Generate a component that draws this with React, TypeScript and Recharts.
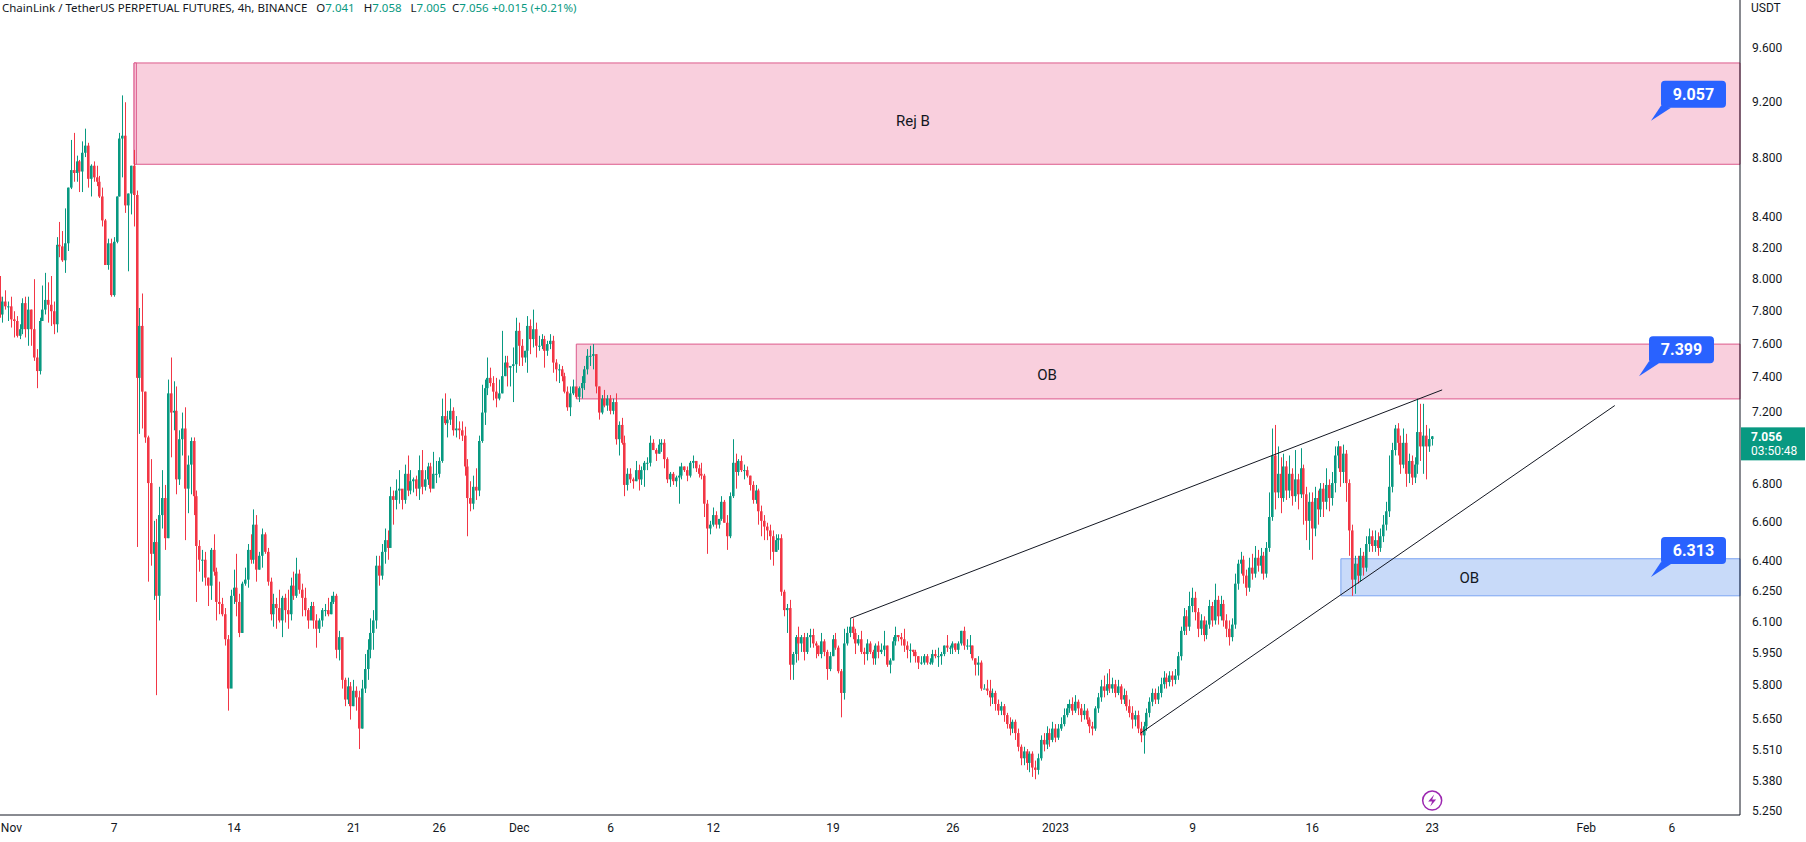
import {
  ComposedChart,
  Bar,
  XAxis,
  YAxis,
  ReferenceArea,
  ReferenceLine,
  ReferenceDot,
} from 'recharts';

const closes = [
  7.77, 7.85, 7.82, 7.82, 7.74, 7.73, 7.64, 7.68, 7.84, 7.68,
  7.80, 7.68, 7.51, 7.43, 7.73, 7.80, 7.86, 7.83, 7.79, 7.71,
  8.21, 8.20, 8.11, 8.22, 8.59, 8.71, 8.69, 8.77, 8.70, 8.83,
  8.88, 8.65, 8.74, 8.66, 8.63, 8.53, 8.37, 8.08, 8.22, 7.89,
  8.23, 8.53, 8.93, 8.95, 8.47, 8.55, 8.74, 8.54, 7.39, 7.70,
  7.31, 7.05, 6.80, 6.43, 6.49, 6.22, 6.63, 6.72, 6.51, 7.30,
  7.19, 7.20, 6.82, 7.04, 7.10, 6.77, 6.90, 7.03, 6.73, 6.47,
  6.40, 6.40, 6.31, 6.27, 6.45, 6.34, 6.19, 6.18, 6.13, 6.01,
  5.78, 6.22, 6.26, 6.19, 6.04, 6.28, 6.30, 6.45, 6.40, 6.58,
  6.35, 6.42, 6.53, 6.44, 6.29, 6.13, 6.18, 6.16, 6.10, 6.21,
  6.15, 6.13, 6.27, 6.22, 6.33, 6.25, 6.21, 6.15, 6.10, 6.17,
  6.10, 6.06, 6.10, 6.15, 6.15, 6.13, 6.19, 6.22, 5.96, 6.02,
  5.82, 5.73, 5.79, 5.70, 5.77, 5.74, 5.60, 5.78, 5.87, 5.96,
  6.04, 6.10, 6.37, 6.32, 6.44, 6.50, 6.46, 6.73, 6.71, 6.76,
  6.77, 6.71, 6.85, 6.76, 6.81, 6.82, 6.77, 6.87, 6.78, 6.82,
  6.89, 6.77, 6.85, 6.85, 6.92, 7.17, 7.13, 7.15, 7.20, 7.09,
  7.10, 7.09, 7.06, 6.89, 6.72, 6.69, 6.78, 6.76, 7.03, 7.19,
  7.33, 7.39, 7.36, 7.31, 7.27, 7.30, 7.40, 7.48, 7.45, 7.46,
  7.47, 7.67, 7.58, 7.51, 7.55, 7.70, 7.62, 7.68, 7.58, 7.58,
  7.62, 7.55, 7.59, 7.61, 7.48, 7.44, 7.44, 7.40, 7.31, 7.22,
  7.30, 7.34, 7.28, 7.33, 7.36, 7.44, 7.52, 7.52, 7.53, 7.34,
  7.19, 7.27, 7.23, 7.27, 7.20, 7.25, 7.04, 7.12, 7.02, 6.79,
  6.85, 6.82, 6.81, 6.87, 6.82, 6.87, 6.91, 6.91, 7.02, 6.98,
  6.96, 7.01, 7.02, 6.93, 6.82, 6.85, 6.81, 6.83, 6.84, 6.89,
  6.87, 6.84, 6.91, 6.92, 6.88, 6.85, 6.84, 6.69, 6.56, 6.58,
  6.63, 6.58, 6.61, 6.70, 6.59, 6.52, 6.73, 6.91, 6.86, 6.92,
  6.87, 6.87, 6.84, 6.79, 6.71, 6.76, 6.65, 6.60, 6.57, 6.55,
  6.52, 6.44, 6.50, 6.51, 6.24, 6.15, 6.16, 5.89, 5.94, 6.02,
  5.99, 6.02, 5.95, 6.02, 6.03, 5.99, 5.98, 5.94, 6.00, 5.95,
  5.87, 5.93, 6.01, 5.97, 5.86, 5.76, 5.99, 6.04, 6.07, 6.04,
  5.99, 6.01, 5.95, 5.94, 5.99, 5.95, 5.92, 5.98, 5.95, 5.96,
  5.98, 5.89, 5.91, 6.00, 6.03, 6.02, 6.01, 5.98, 5.96, 5.96,
  5.95, 5.93, 5.90, 5.90, 5.93, 5.90, 5.90, 5.94, 5.93, 5.93,
  5.94, 5.98, 5.97, 5.97, 5.99, 5.96, 5.99, 6.05, 5.98, 5.98,
  5.98, 5.92, 5.89, 5.90, 5.78, 5.78, 5.77, 5.74, 5.76, 5.71,
  5.68, 5.70, 5.66, 5.62, 5.60, 5.63, 5.58, 5.52, 5.47, 5.50,
  5.45, 5.49, 5.43, 5.42, 5.47, 5.55, 5.53, 5.58, 5.55, 5.60,
  5.56, 5.60, 5.62, 5.66, 5.69, 5.71, 5.68, 5.72, 5.69, 5.66,
  5.68, 5.64, 5.61, 5.60, 5.69, 5.74, 5.79, 5.77, 5.80, 5.78,
  5.80, 5.76, 5.79, 5.73, 5.75, 5.70, 5.67, 5.64, 5.66, 5.60,
  5.57, 5.61, 5.67, 5.72, 5.76, 5.73, 5.76, 5.80, 5.83, 5.81,
  5.84, 5.82, 5.84, 5.93, 6.05, 6.12, 6.07, 6.17, 6.21, 6.14,
  6.06, 6.10, 6.03, 6.08, 6.17, 6.10, 6.20, 6.12, 6.18, 6.10,
  6.06, 6.02, 6.08, 6.28, 6.38, 6.40, 6.32, 6.26, 6.36, 6.33,
  6.41, 6.37, 6.42, 6.33, 6.46, 6.62, 6.95, 6.75, 6.85, 6.72,
  6.89, 6.76, 6.85, 6.73, 6.82, 6.74, 6.88, 6.74, 6.60, 6.70,
  6.56, 6.72, 6.66, 6.77, 6.70, 6.79, 6.72, 6.80, 6.95, 7.00,
  6.86, 6.96, 6.80, 6.55, 6.30, 6.38, 6.32, 6.42, 6.36, 6.48,
  6.52, 6.47, 6.50, 6.46, 6.52, 6.58, 6.65, 6.78, 6.98, 7.10,
  7.02, 6.90, 7.02, 6.85, 6.92, 6.83, 6.90, 7.08, 7.00, 7.06,
  7.00, 7.041, 7.056,
];

const highs = [
  8.01, 7.88, 7.92, 7.85, 7.88, 7.79, 7.76, 7.71, 7.87, 7.88,
  7.88, 7.80, 7.99, 7.56, 7.75, 7.95, 8.03, 7.97, 8.01, 7.85,
  8.26, 8.36, 8.30, 8.45, 8.59, 8.92, 8.97, 8.81, 8.78, 8.91,
  9.00, 8.90, 8.75, 8.77, 8.74, 8.67, 8.59, 8.38, 8.25, 8.25,
  8.26, 8.53, 8.97, 9.24, 9.19, 8.55, 8.74, 8.85, 8.57, 7.81,
  7.90, 7.31, 7.06, 6.93, 6.60, 6.61, 6.78, 6.87, 6.79, 7.38,
  7.51, 7.37, 7.34, 7.09, 7.19, 7.22, 6.95, 7.05, 7.05, 6.76,
  6.50, 6.45, 6.44, 6.31, 6.46, 6.53, 6.36, 6.29, 6.21, 6.16,
  6.03, 6.25, 6.35, 6.43, 6.23, 6.29, 6.36, 6.48, 6.53, 6.66,
  6.63, 6.44, 6.56, 6.54, 6.46, 6.31, 6.23, 6.21, 6.25, 6.22,
  6.23, 6.25, 6.31, 6.34, 6.41, 6.35, 6.28, 6.26, 6.16, 6.19,
  6.19, 6.13, 6.11, 6.16, 6.18, 6.21, 6.22, 6.24, 6.23, 6.05,
  6.00, 5.83, 5.83, 5.81, 5.82, 5.79, 5.77, 5.82, 5.94, 6.01,
  6.11, 6.15, 6.42, 6.42, 6.48, 6.56, 6.55, 6.78, 6.76, 6.82,
  6.87, 6.76, 6.90, 6.95, 6.87, 6.83, 6.84, 6.95, 6.98, 6.87,
  6.91, 6.91, 6.97, 6.92, 6.94, 7.27, 7.30, 7.20, 7.27, 7.22,
  7.17, 7.14, 7.14, 7.11, 6.93, 6.81, 6.84, 6.88, 7.06, 7.35,
  7.38, 7.51, 7.45, 7.40, 7.39, 7.38, 7.67, 7.52, 7.52, 7.46,
  7.57, 7.75, 7.72, 7.62, 7.55, 7.76, 7.74, 7.80, 7.72, 7.64,
  7.65, 7.64, 7.61, 7.65, 7.64, 7.50, 7.47, 7.46, 7.42, 7.34,
  7.34, 7.38, 7.33, 7.34, 7.40, 7.46, 7.56, 7.58, 7.59, 7.53,
  7.34, 7.29, 7.32, 7.29, 7.29, 7.27, 7.30, 7.14, 7.16, 7.06,
  6.88, 6.88, 6.83, 6.92, 6.90, 6.89, 6.92, 6.94, 7.06, 7.04,
  6.99, 7.04, 7.04, 7.04, 6.94, 6.86, 6.86, 6.84, 6.89, 6.91,
  6.89, 6.89, 6.92, 6.95, 6.92, 6.90, 6.91, 6.85, 6.71, 6.60,
  6.67, 6.65, 6.61, 6.73, 6.71, 6.63, 6.75, 7.04, 6.96, 6.93,
  6.95, 6.90, 6.89, 6.84, 6.81, 6.79, 6.77, 6.68, 6.63, 6.59,
  6.58, 6.55, 6.53, 6.53, 6.53, 6.25, 6.18, 6.20, 5.95, 6.03,
  6.07, 6.03, 6.04, 6.04, 6.06, 6.06, 6.00, 5.98, 6.04, 6.01,
  5.96, 5.95, 6.03, 6.04, 5.98, 5.87, 6.06, 6.07, 6.11, 6.11,
  6.06, 6.03, 6.05, 5.97, 6.01, 6.00, 5.96, 5.99, 6.00, 5.99,
  6.05, 5.98, 5.92, 6.02, 6.07, 6.03, 6.04, 6.06, 6.00, 5.99,
  5.96, 5.96, 5.93, 5.93, 5.94, 5.94, 5.92, 5.96, 5.96, 5.97,
  5.95, 5.98, 6.03, 5.98, 6.00, 5.99, 6.00, 6.05, 6.07, 6.01,
  6.03, 5.98, 5.92, 5.93, 5.91, 5.80, 5.82, 5.82, 5.78, 5.77,
  5.73, 5.72, 5.71, 5.67, 5.65, 5.64, 5.64, 5.60, 5.53, 5.52,
  5.51, 5.50, 5.50, 5.46, 5.49, 5.57, 5.58, 5.61, 5.60, 5.63,
  5.62, 5.62, 5.65, 5.69, 5.71, 5.73, 5.74, 5.75, 5.73, 5.71,
  5.71, 5.69, 5.65, 5.63, 5.70, 5.76, 5.82, 5.84, 5.85, 5.87,
  5.83, 5.82, 5.82, 5.80, 5.78, 5.77, 5.73, 5.70, 5.68, 5.68,
  5.63, 5.63, 5.69, 5.74, 5.78, 5.78, 5.79, 5.83, 5.86, 5.85,
  5.86, 5.86, 5.87, 5.95, 6.07, 6.16, 6.15, 6.24, 6.26, 6.24,
  6.16, 6.13, 6.12, 6.10, 6.20, 6.19, 6.28, 6.22, 6.22, 6.20,
  6.13, 6.10, 6.11, 6.33, 6.40, 6.44, 6.42, 6.35, 6.41, 6.43,
  6.47, 6.45, 6.46, 6.44, 6.49, 6.75, 7.10, 7.12, 7.00, 6.94,
  6.96, 6.92, 6.95, 6.88, 6.98, 6.85, 6.99, 6.90, 6.78, 6.75,
  6.75, 6.78, 6.76, 6.80, 6.80, 6.88, 6.82, 6.86, 7.00, 7.03,
  7.00, 7.01, 6.98, 6.82, 6.58, 6.42, 6.42, 6.46, 6.44, 6.52,
  6.56, 6.55, 6.55, 6.54, 6.56, 6.63, 6.70, 6.95, 7.02, 7.12,
  7.13, 7.06, 7.10, 7.07, 6.96, 6.95, 6.94, 7.27, 7.24, 7.24,
  7.12, 7.10, 7.058,
];

const lows = [
  7.75, 7.72, 7.80, 7.73, 7.69, 7.63, 7.63, 7.62, 7.65, 7.63,
  7.58, 7.58, 7.49, 7.33, 7.41, 7.73, 7.77, 7.72, 7.70, 7.65,
  7.66, 8.13, 8.10, 8.03, 8.17, 8.58, 8.63, 8.63, 8.56, 8.56,
  8.80, 8.59, 8.53, 8.63, 8.60, 8.52, 8.33, 8.08, 8.05, 7.88,
  7.88, 8.22, 8.53, 8.66, 8.42, 8.04, 8.41, 8.33, 6.465, 7.07,
  7.10, 7.02, 6.29, 6.37, 6.20, 5.75, 6.10, 6.56, 6.45, 6.51,
  6.94, 7.09, 6.74, 6.79, 6.95, 6.50, 6.64, 6.74, 6.63, 6.19,
  6.34, 6.29, 6.27, 6.17, 6.20, 6.32, 6.10, 6.13, 6.12, 5.98,
  5.68, 5.82, 6.18, 6.12, 6.02, 6.04, 6.27, 6.26, 6.38, 6.38,
  6.29, 6.35, 6.36, 6.43, 6.27, 6.10, 6.07, 6.06, 6.09, 6.02,
  6.09, 6.06, 6.10, 6.20, 6.21, 6.23, 6.12, 6.12, 6.06, 6.11,
  6.06, 5.97, 6.04, 6.07, 6.12, 6.12, 6.13, 6.18, 5.92, 5.91,
  5.78, 5.70, 5.71, 5.64, 5.70, 5.68, 5.51, 5.60, 5.76, 5.82,
  5.92, 5.96, 6.06, 6.27, 6.30, 6.38, 6.40, 6.60, 6.58, 6.66,
  6.69, 6.66, 6.69, 6.73, 6.74, 6.75, 6.73, 6.71, 6.74, 6.76,
  6.79, 6.75, 6.82, 6.80, 6.83, 6.91, 7.12, 7.05, 7.12, 7.06,
  7.05, 7.04, 7.03, 6.84, 6.52, 6.65, 6.66, 6.71, 6.73, 7.02,
  7.12, 7.29, 7.34, 7.26, 7.22, 7.26, 7.30, 7.40, 7.34, 7.34,
  7.25, 7.42, 7.46, 7.46, 7.48, 7.42, 7.53, 7.57, 7.51, 7.55,
  7.56, 7.45, 7.52, 7.56, 7.42, 7.37, 7.36, 7.37, 7.30, 7.20,
  7.17, 7.29, 7.27, 7.25, 7.27, 7.32, 7.41, 7.46, 7.44, 7.30,
  7.15, 7.18, 7.22, 7.20, 7.18, 7.18, 7.01, 6.95, 7.01, 6.73,
  6.76, 6.80, 6.77, 6.81, 6.76, 6.79, 6.78, 6.87, 6.89, 6.98,
  6.92, 6.96, 6.97, 6.88, 6.80, 6.78, 6.79, 6.78, 6.69, 6.82,
  6.86, 6.81, 6.83, 6.88, 6.86, 6.83, 6.82, 6.62, 6.43, 6.53,
  6.57, 6.56, 6.56, 6.60, 6.59, 6.45, 6.51, 6.72, 6.77, 6.84,
  6.86, 6.82, 6.83, 6.76, 6.69, 6.69, 6.58, 6.52, 6.50, 6.50,
  6.40, 6.37, 6.44, 6.45, 6.22, 6.12, 6.04, 5.82, 5.82, 5.90,
  5.91, 5.95, 5.91, 5.94, 5.97, 5.97, 5.92, 5.93, 5.92, 5.93,
  5.82, 5.86, 5.93, 5.96, 5.85, 5.65, 5.73, 5.98, 6.02, 6.01,
  5.94, 5.98, 5.94, 5.89, 5.91, 5.94, 5.89, 5.89, 5.92, 5.94,
  5.93, 5.88, 5.85, 5.91, 5.98, 6.00, 5.98, 5.95, 5.92, 5.90,
  5.93, 5.90, 5.87, 5.89, 5.89, 5.89, 5.89, 5.89, 5.92, 5.88,
  5.89, 5.93, 5.95, 5.94, 5.94, 5.95, 5.94, 5.98, 5.96, 5.96,
  5.94, 5.91, 5.84, 5.84, 5.77, 5.78, 5.75, 5.70, 5.71, 5.68,
  5.66, 5.66, 5.63, 5.60, 5.57, 5.58, 5.55, 5.50, 5.44, 5.44,
  5.42, 5.41, 5.39, 5.38, 5.40, 5.46, 5.50, 5.51, 5.52, 5.54,
  5.54, 5.55, 5.59, 5.61, 5.65, 5.67, 5.66, 5.67, 5.66, 5.63,
  5.64, 5.62, 5.58, 5.57, 5.59, 5.67, 5.72, 5.74, 5.75, 5.76,
  5.76, 5.74, 5.75, 5.71, 5.71, 5.68, 5.65, 5.60, 5.61, 5.58,
  5.54, 5.49, 5.59, 5.65, 5.70, 5.71, 5.71, 5.74, 5.78, 5.78,
  5.79, 5.79, 5.80, 5.82, 5.91, 6.03, 6.03, 6.05, 6.14, 6.10,
  6.02, 6.03, 6.00, 6.01, 6.06, 6.07, 6.08, 6.08, 6.10, 6.07,
  6.02, 5.98, 6.00, 6.06, 6.25, 6.33, 6.28, 6.22, 6.24, 6.30,
  6.31, 6.34, 6.33, 6.30, 6.31, 6.44, 6.60, 6.66, 6.72, 6.64,
  6.70, 6.71, 6.72, 6.68, 6.70, 6.66, 6.72, 6.58, 6.50, 6.45,
  6.40, 6.52, 6.58, 6.62, 6.62, 6.66, 6.65, 6.68, 6.75, 6.88,
  6.78, 6.80, 6.70, 6.42, 6.22, 6.23, 6.28, 6.29, 6.32, 6.34,
  6.44, 6.44, 6.44, 6.42, 6.44, 6.49, 6.55, 6.62, 6.75, 6.95,
  6.95, 6.85, 6.88, 6.78, 6.80, 6.79, 6.80, 6.85, 6.92, 6.85,
  6.82, 6.97, 7.005,
];

const firstOpen = 7.88;

const priceTicks = [
  9.6, 9.2, 8.8, 8.4, 8.2, 8.0, 7.8, 7.6, 7.4, 7.2, 6.8, 6.6, 6.4, 6.25, 6.1, 5.95, 5.8, 5.65,
  5.51, 5.38, 5.25,
];

const dateTicks = [4, 40, 82, 124, 154, 182, 214, 250, 292, 334, 370, 418, 460, 502, 556, 586];
const dateLabels = [
  'Nov', '7', '14', '21', '26', 'Dec', '6', '12', '19', '26', '2023', '9', '16', '23', 'Feb', '6',
];

const callouts = [
  { bar: 578.7, price: 9.057 },
  { bar: 574.5, price: 7.399 },
  { bar: 578.7, price: 6.313 },
];

const upColor = '#089981';
const downColor = '#f23645';
const pinkFill = '#f9cfdd';
const pinkLine = '#dc5a8c';
const blueFill = '#c8daf9';
const blueLine = '#7ba4f2';
const lastBar = 609.9;
const font = 'Roboto, sans-serif';

const data = closes.map((close, i) => {
  const open = i === 0 ? firstOpen : closes[i - 1];
  return {
    i,
    wick: [lows[i], highs[i]],
    body: [Math.min(open, close), Math.max(open, close)],
    up: close >= open,
  };
});

// snap to whole pixels so wicks stay centred on the bodies
const Candle = (props: any) => {
  const { x, y, width, height, payload } = props;
  return (
    <rect
      x={Math.round(x)}
      y={y}
      width={width}
      height={Math.max(height, 1)}
      fill={payload.up ? upColor : downColor}
    />
  );
};

const Callout = (props: any) => {
  const { cx, cy, label } = props;
  return (
    <g>
      <path d={`M${cx} ${cy} L${cx + 10} ${cy - 15} L${cx + 20} ${cy - 13} Z`} fill="#2962ff" />
      <rect x={cx + 10} y={cy - 40} width={65} height={27} rx={4} fill="#2962ff" />
      <text
        x={cx + 42.5}
        y={cy - 21}
        textAnchor="middle"
        fill="#fff"
        fontFamily={font}
        fontSize={16}
        fontWeight={700}
      >
        {label}
      </text>
    </g>
  );
};

const PriceTag = (props: any) => {
  const { cx, cy } = props;
  return (
    <g fontFamily={font} fill="#fff" fontSize={12}>
      <rect x={cx + 1} y={cy - 9} width={64} height={33} fill={upColor} />
      <text x={cx + 11} y={cy + 5} fontWeight={700}>
        7.056
      </text>
      <text x={cx + 11} y={cy + 19}>
        03:50:48
      </text>
    </g>
  );
};

const BoltIcon = (props: any) => {
  const { cx, cy } = props;
  return (
    <g>
      <circle cx={cx} cy={cy} r={9.5} fill="#fff" stroke="#9c27b0" strokeWidth={1.5} />
      <path
        d={`M${cx + 2} ${cy - 6} L${cx - 4} ${cy + 1} L${cx} ${cy + 1} L${cx - 2} ${cy + 6} L${cx + 4} ${cy - 1} L${cx} ${cy - 1} Z`}
        fill="#9c27b0"
      />
    </g>
  );
};

const App = () => {
  return (
    <div
      style={{
        position: 'absolute',
        left: 0,
        top: 0,
        width: 1806,
        height: 842,
        overflow: 'hidden',
        background: '#fff',
      }}
    >
      <ComposedChart
        width={1806}
        height={842}
        data={data}
        margin={{ top: 0, right: 0, bottom: 0, left: 0 }}
      >
        <XAxis
          dataKey="i"
          type="number"
          domain={[0, lastBar]}
          allowDataOverflow
          ticks={dateTicks}
          interval={0}
          tickFormatter={(v: number) => dateLabels[dateTicks.indexOf(v)]}
          height={27}
          tickLine={false}
          axisLine={{ stroke: '#131722' }}
          tick={{ fontSize: 12, fontFamily: font, fill: '#131722' }}
          tickMargin={2}
        />
        <XAxis xAxisId="body" dataKey="i" type="number" domain={[0, lastBar]} allowDataOverflow hide />
        <YAxis
          orientation="right"
          scale="log"
          type="number"
          domain={[5.23, 9.964]}
          allowDataOverflow
          ticks={priceTicks}
          interval={0}
          width={66}
          tickFormatter={(v: number) => v.toFixed(3)}
          tickLine={false}
          axisLine={{ stroke: '#131722' }}
          tick={{ fontSize: 12, fontFamily: font, fill: '#131722', textAnchor: 'start', dy: 1 }}
          tickMargin={6}
        />
        <ReferenceArea x1={47} x2={lastBar} y1={8.75} y2={9.48} fill={pinkFill} fillOpacity={1} stroke={pinkLine} />
        <ReferenceArea x1={47} x2={47.8} y1={8.75} y2={9.48} fill={pinkFill} fillOpacity={1} stroke={pinkLine} />
        <ReferenceArea x1={202} x2={lastBar} y1={7.268} y2={7.59} fill={pinkFill} fillOpacity={1} stroke={pinkLine} />
        <ReferenceArea x1={470} x2={lastBar} y1={6.22} y2={6.405} fill={blueFill} fillOpacity={1} stroke={blueLine} />
        <ReferenceDot
          x={320}
          y={9.06}
          r={0}
          label={{ value: 'Rej B', position: 'center', fontSize: 15, fontFamily: font, fill: '#131722' }}
        />
        <ReferenceDot
          x={367}
          y={7.41}
          r={0}
          label={{ value: 'OB', position: 'center', fontSize: 15, fontFamily: font, fill: '#131722' }}
        />
        <ReferenceDot
          x={515}
          y={6.31}
          r={0}
          label={{ value: 'OB', position: 'center', fontSize: 15, fontFamily: font, fill: '#131722' }}
        />
        <Bar dataKey="wick" barSize={1} shape={Candle} isAnimationActive={false} />
        <Bar dataKey="body" xAxisId="body" barSize={3} shape={Candle} isAnimationActive={false} />
        <ReferenceLine
          segment={[
            { x: 298, y: 6.11 },
            { x: 505.5, y: 7.32 },
          ]}
          stroke="#131722"
          strokeWidth={1}
        />
        <ReferenceLine
          segment={[
            { x: 399.8, y: 5.58 },
            { x: 566, y: 7.23 },
          ]}
          stroke="#131722"
          strokeWidth={1}
        />
        {callouts.map((c) => (
          <ReferenceDot
            key={c.price}
            x={c.bar}
            y={c.price}
            ifOverflow="visible"
            shape={(p: any) => <Callout {...p} label={c.price.toFixed(3)} />}
          />
        ))}
        <ReferenceDot x={lastBar} y={7.056} ifOverflow="visible" shape={PriceTag} />
        <ReferenceDot x={502} y={5.29} ifOverflow="visible" shape={BoltIcon} />
      </ComposedChart>
      <div
        style={{
          position: 'absolute',
          left: 1751,
          top: 1,
          fontFamily: font,
          fontSize: 12,
          color: '#131722',
        }}
      >
        USDT
      </div>
      <div
        style={{
          position: 'absolute',
          left: 2,
          top: 0,
          whiteSpace: 'pre',
          fontFamily: '"Noto Sans", sans-serif',
          fontSize: 11.5,
          lineHeight: '15px',
          color: '#131722',
        }}
      >
        {'ChainLink / TetherUS PERPETUAL FUTURES, 4h, BINANCE   O'}
        <span style={{ color: upColor }}>7.041</span>
        {'   H'}
        <span style={{ color: upColor }}>7.058</span>
        {'   L'}
        <span style={{ color: upColor }}>7.005</span>
        {'  C'}
        <span style={{ color: upColor }}>7.056</span>
        <span style={{ color: upColor }}>{' +0.015 (+0.21%)'}</span>
      </div>
    </div>
  );
};

export default App;
